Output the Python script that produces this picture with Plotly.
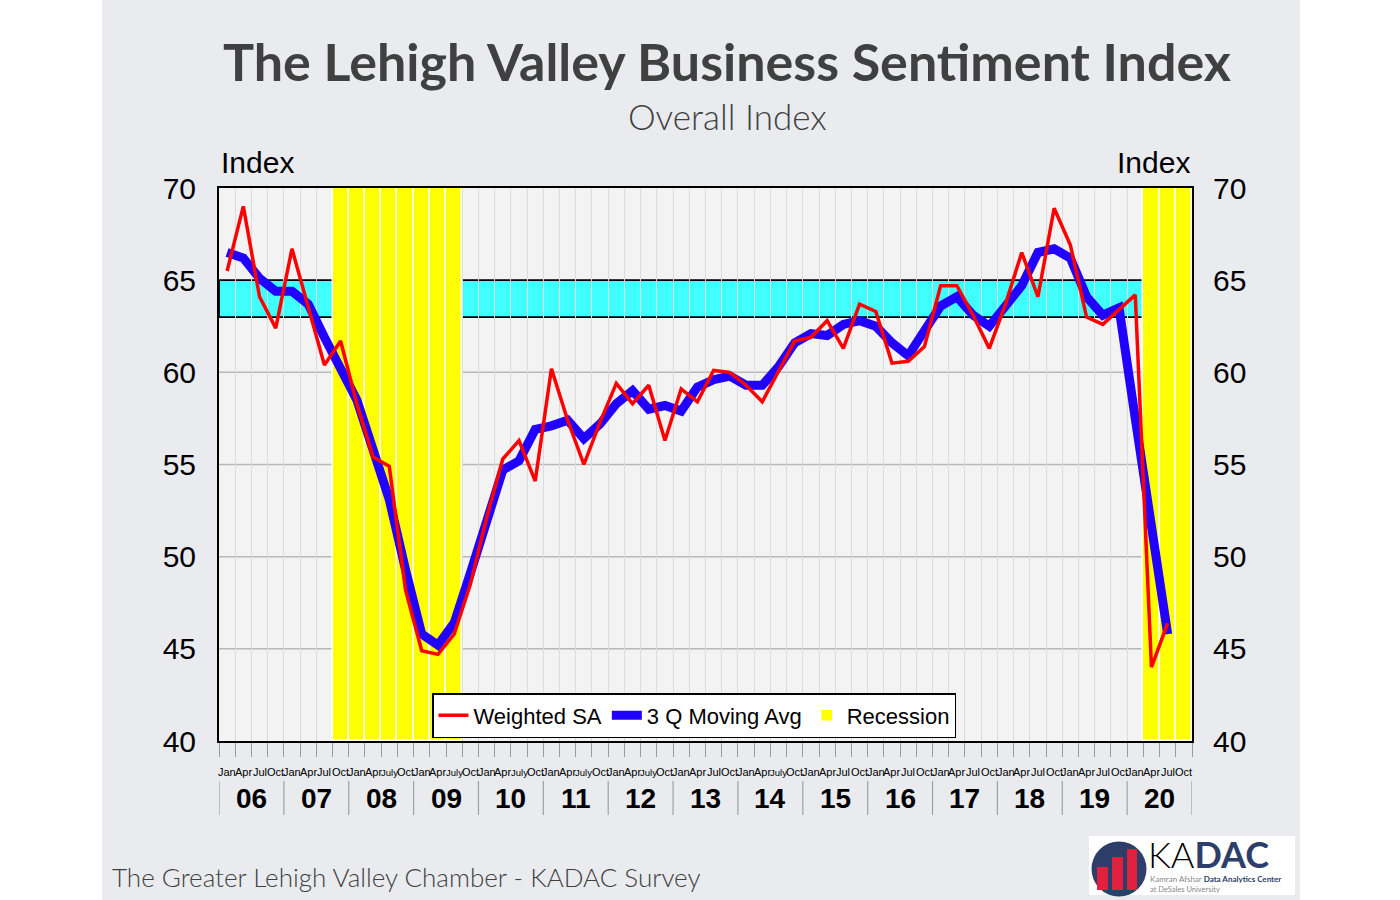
import plotly.graph_objects as go

# ---------------- data ----------------
years = ["06", "07", "08", "09", "10", "11", "12", "13", "14", "15", "16", "17", "18", "19", "20"]
quarter_months = ["Jan", "Apr", "Jul", "Oct"]
july_long_years = ["08", "09", "10", "11", "12", "14"]   # years whose Q3 label reads "July"

weighted_sa = [65.5, 69.0, 64.1, 62.4, 66.7, 63.6, 60.4, 61.7,
               58.3, 55.4, 54.9, 48.2, 44.9, 44.7, 45.8, 48.5,
               52.1, 55.3, 56.3, 54.1, 60.2, 57.4, 55.0, 57.3,
               59.4, 58.3, 59.3, 56.3, 59.1, 58.4, 60.1, 60.0,
               59.3, 58.4, 60.1, 61.7, 61.9, 62.8, 61.3, 63.7,
               63.3, 60.5, 60.6, 61.4, 64.7, 64.7, 63.1, 61.3,
               63.7, 66.5, 64.1, 68.9, 66.9, 63.0, 62.6, 63.4,
               64.2, 44.0, 46.4]

moving_avg = [66.5, 66.2, 65.1, 64.4, 64.4, 63.7, 61.9, 60.1,
              58.5, 55.8, 53.1, 49.3, 45.8, 45.2, 46.4, 49.1,
              52.1, 54.7, 55.2, 56.9, 57.1, 57.4, 56.4, 57.2,
              58.3, 59.0, 58.0, 58.2, 57.9, 59.2, 59.6, 59.8,
              59.3, 59.3, 60.3, 61.6, 62.1, 62.0, 62.6, 62.8,
              62.5, 61.6, 60.9, 62.2, 63.6, 64.1, 63.1, 62.5,
              63.6, 64.7, 66.5, 66.7, 66.2, 64.1, 63.1, 63.5,
              57.5, 51.6, 45.8]

# 1 = recession quarter (2006Q1 .. 2020Q4)
recession = [0] * 7 + [1] * 8 + [0] * 42 + [1] * 3

band_low, band_high = 63, 65
y_ticks = [40, 45, 50, 55, 60, 65, 70]
grid_values = [45, 50, 55, 60]

# ---------------- derived ----------------
n_q = len(years) * 4
quarter_labels = []
for yr in years:
    for m in quarter_months:
        if m == "Jul" and yr in july_long_years:
            quarter_labels.append("July")
        else:
            quarter_labels.append(m)

xs = list(range(len(weighted_sa)))
rec_x = [i for i, f in enumerate(recession) if f]

# pixel helpers (plot area 219..1192 x 188..741)
L, R, T, B = 219, 1192, 188, 741
W, H = R - L, B - T
def px(x):
    return (x - L) / W
def py(y):
    return (B - y) / H

fig = go.Figure()

fig.add_trace(go.Bar(
    x=rec_x, y=[30] * len(rec_x), base=40, width=1.0,
    marker=dict(color="#ffff00", line=dict(color="white", width=1.5)),
    name="Recession", legendrank=3, hoverinfo="skip"))

fig.add_trace(go.Scatter(
    x=xs, y=moving_avg, mode="lines", name="3 Q Moving Avg",
    line=dict(color="#2200ff", width=9), legendrank=2))

fig.add_trace(go.Scatter(
    x=xs, y=weighted_sa, mode="lines", name="Weighted SA",
    line=dict(color="#ff0000", width=3.5), legendrank=1))

# invisible trace to activate right axis
fig.add_trace(go.Scatter(
    x=xs, y=moving_avg, yaxis="y2", mode="lines", line=dict(width=0),
    showlegend=False, hoverinfo="skip", opacity=0))

shapes = []
# cyan band with black borders
shapes.append(dict(type="rect", xref="x domain", yref="y", x0=0, x1=1,
                   y0=band_low, y1=band_high, fillcolor="#40ffff",
                   line=dict(color="black", width=1.8), layer="below"))
# horizontal grid lines
for gv in grid_values:
    shapes.append(dict(type="line", xref="x domain", yref="y", x0=0, x1=1,
                       y0=gv, y1=gv, line=dict(color="#b8b8b8", width=1.5),
                       layer="below"))

# white margins left/right of the slide
shapes.append(dict(type="rect", xref="paper", yref="paper",
                   x0=px(0), x1=px(102), y0=py(900), y1=py(0),
                   fillcolor="white", line=dict(width=0), layer="below"))
shapes.append(dict(type="rect", xref="paper", yref="paper",
                   x0=px(1300), x1=px(1400), y0=py(900), y1=py(0),
                   fillcolor="white", line=dict(width=0), layer="below"))

# year separators below axis
for k in range(len(years) + 1):
    xb = 4 * k - 0.5
    shapes.append(dict(type="line", xref="x", yref="paper", x0=xb, x1=xb,
                       y0=py(815), y1=py(781), line=dict(color="#a0a0a0", width=1.2)))

# KADAC logo
shapes.append(dict(type="rect", xref="paper", yref="paper",
                   x0=px(1089), x1=px(1295), y0=py(895), y1=py(836),
                   fillcolor="white", line=dict(width=0)))
shapes.append(dict(type="circle", xref="paper", yref="paper",
                   x0=px(1091.5), x1=px(1146.5), y0=py(896.5), y1=py(841.5),
                   fillcolor="#2d3e6b", line=dict(width=0)))
for (bx0, bx1, by0) in [(1097, 1108, 867), (1112, 1123, 857), (1127, 1137, 849)]:
    shapes.append(dict(type="rect", xref="paper", yref="paper",
                       x0=px(bx0), x1=px(bx1), y0=py(890), y1=py(by0),
                       fillcolor="#e0203c", line=dict(width=0)))

annotations = []
# month labels
for i, lab in enumerate(quarter_labels):
    annotations.append(dict(x=i, y=py(772), xref="x", yref="paper", text=lab,
                            showarrow=False, xanchor="center", yanchor="middle",
                            font=dict(family="Arial", size=9.5 if lab == "July" else 11,
                                      color="black")))
# year labels
for k, yr in enumerate(years):
    annotations.append(dict(x=4 * k + 1.5, y=py(798), xref="x", yref="paper", text="<b>" + yr + "</b>",
                            showarrow=False, xanchor="center", yanchor="middle",
                            font=dict(family="Arial", size=28, color="black")))

annotations += [
    dict(x=px(727), y=py(61), xref="paper", yref="paper",
         text="<b>The Lehigh Valley Business Sentiment Index</b>", showarrow=False,
         xanchor="center", yanchor="middle",
         font=dict(family="Lato", size=52, color="#404040")),
    dict(x=px(727), y=py(116), xref="paper", yref="paper",
         text="Overall Index", showarrow=False, xanchor="center", yanchor="middle",
         font=dict(family="Lato", size=35, color="#404040", weight=300)),
    dict(x=px(219), y=py(162), xref="paper", yref="paper", text="Index",
         showarrow=False, xanchor="left", yanchor="middle",
         font=dict(family="Arial", size=30, color="black")),
    dict(x=px(1192), y=py(162), xref="paper", yref="paper", text="Index",
         showarrow=False, xanchor="right", yanchor="middle",
         font=dict(family="Arial", size=30, color="black")),
    dict(x=px(110), y=py(877), xref="paper", yref="paper",
         text="The Greater Lehigh Valley Chamber - KADAC Survey", showarrow=False,
         xanchor="left", yanchor="middle",
         font=dict(family="Lato", size=26, color="#404040", weight=300)),
    dict(x=px(1146), y=py(854), xref="paper", yref="paper",
         text="KA<span style='color:#2d3e6b'><b>DAC</b></span>", showarrow=False,
         xanchor="left", yanchor="middle",
         font=dict(family="Lato", size=36, color="black", weight=300)),
    dict(x=px(1148), y=py(879), xref="paper", yref="paper",
         text="<span style='color:#888'>Kamran Afshar</span> <b>Data Analytics Center</b>",
         showarrow=False, xanchor="left", yanchor="middle",
         font=dict(family="Lato", size=8, color="#2d3e6b")),
    dict(x=px(1148), y=py(889), xref="paper", yref="paper",
         text="at DeSales University", showarrow=False, xanchor="left", yanchor="middle",
         font=dict(family="Lato", size=7.5, color="#888")),
]

fig.update_layout(
    width=1400, height=900,
    margin=dict(l=L, r=1400 - R, t=T, b=900 - B, pad=0),
    paper_bgcolor="#e9ebee", plot_bgcolor="#f3f3f3",
    shapes=shapes, annotations=annotations,
    bargap=0, showlegend=True,
    legend=dict(orientation="h", x=px(432), y=py(693), xanchor="left", yanchor="top",
                bgcolor="white", bordercolor="black", borderwidth=1.5,
                font=dict(family="Arial", size=22, color="black"),
                traceorder="normal", itemwidth=30),
    xaxis=dict(range=[-0.5, n_q - 0.5], tickmode="array",
               tickvals=[k - 0.5 for k in range(n_q + 1)],
               showticklabels=False, ticks="outside", ticklen=14, tickcolor="#9a9a9a",
               showgrid=True, gridcolor="#dcdcdc", gridwidth=1, zeroline=False,
               showline=True, mirror=True, linecolor="black", linewidth=2),
    yaxis=dict(range=[40, 70], tickmode="array", tickvals=y_ticks,
               showgrid=False, zeroline=False,
               showline=True, mirror=True, linecolor="black", linewidth=2,
               ticks="", ticklabelstandoff=15,
               tickfont=dict(family="Arial", size=30, color="black")),
    yaxis2=dict(range=[40, 70], overlaying="y", side="right", tickmode="array",
                tickvals=y_ticks, showgrid=False, zeroline=False, showline=False,
                ticks="", ticklabelstandoff=20,
                tickfont=dict(family="Arial", size=30, color="black")),
)

fig.write_html("out.html", config={"displayModeBar": False},
               post_script="document.body.style.margin='0';")
